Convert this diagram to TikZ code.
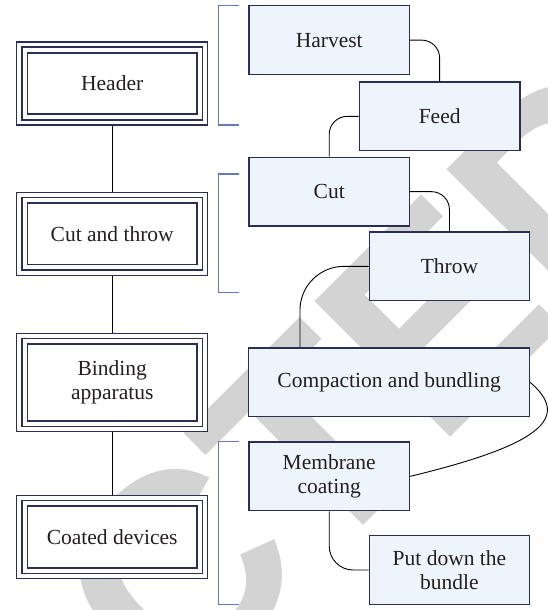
\documentclass[tikz,border=0pt]{standalone}
\usepackage{fontspec}
\setmainfont{Liberation Serif}
\newfontfamily\wmfont{Liberation Sans}
\usetikzlibrary{calc}
\definecolor{boxline}{RGB}{40,46,85}
\definecolor{boxfill}{RGB}{238,244,252}
\definecolor{brace}{RGB}{100,122,190}
\definecolor{ink}{RGB}{35,31,32}
\definecolor{wmgray}{RGB}{211,211,211}

\begin{document}
\begin{tikzpicture}[x=1pt,y=-1pt,
  label font/.style={font=\fontsize{21.5}{24.3}\selectfont},
  stage/.style={draw=boxline, line width=1.1pt, fill=white,
    minimum width=190.8pt, minimum height=83pt, inner sep=0pt,
    align=center, text=ink, label font},
  stage rim/.style={draw=boxline},
  task/.style={draw=boxline, line width=1.3pt, fill=boxfill,
    minimum width=160.6pt, minimum height=68.8pt, inner sep=0pt,
    align=center, text=ink, label font},
  link/.style={draw=black, line width=0.9pt},
  bracket/.style={draw=brace, line width=1.2pt},
  watermark/.style={text=wmgray, inner sep=0pt,
    font=\wmfont\bfseries\fontsize{279}{279}\selectfont}]

\useasboundingbox (0,0) rectangle (548,610);

% background stamp
\begin{scope}
  \clip (0,0) rectangle (548,610);
  \node[watermark, rotate=45, anchor=base west] (stamp) at (-505,1393) {RETRACTED};
\end{scope}

% left column: stages
\node[stage] (hd) at (112.2,83.5) {Header};
\node[stage] (ct) at (112.2,233.7) {Cut and throw};
\node[stage, minimum height=98pt] (ba) at (112.2,382.3) {Binding\\apparatus};
\node[stage] (cd) at (112.2,537) {Coated devices};

\foreach \n in {hd,ct,ba,cd}{
  \draw[stage rim, line width=1.4pt]
    ([xshift=5.6pt,yshift=-5.6pt]\n.north west) rectangle ([xshift=-5.6pt,yshift=5.6pt]\n.south east);
  \draw[stage rim, line width=1.8pt]
    ([xshift=11.2pt,yshift=-11.2pt]\n.north west) rectangle ([xshift=-11.2pt,yshift=11.2pt]\n.south east);
}

\draw[link] (hd.south) -- (ct.north);
\draw[link] (ct.south) -- (ba.north);
\draw[link] (ba.south) -- (cd.north);

% brackets grouping the tasks
\draw[bracket] (239,5.3) -| (218.1,125) -- (239,125);
\draw[bracket] (239,174) -| (218.1,292.7) -- (239,292.7);
\draw[bracket] (239,441.3) -| (218.1,604.7) -- (239,604.7);

% right column: tasks
\node[task] (hv) at (329.2,40.1) {Harvest};
\node[task] (fd) at (439.65,116.35) {Feed};
\node[task] (cu) at (329.2,191.65) {Cut};
\node[task] (th) at (449.45,266.35) {Throw};
\node[task, minimum width=280.7pt] (cb) at (389.15,382.35) {Compaction and bundling};
\node[task] (mc) at (329.2,476.35) {Membrane\\coating};
\node[task] (pd) at (449.45,570) {Put down the\\bundle};

\coordinate (cbin) at ($(cb.north west)+(51.8,0)$);

\draw[link, rounded corners=18pt] (hv.east) -| (fd.north);
\draw[link, rounded corners=18pt] (fd.west) -| (cu.north);
\draw[link, rounded corners=18pt] (cu.east) -| (th.north);
\draw[link, rounded corners=44pt] (th.west) -| (cbin);
\draw[link] (cb.east) .. controls (572,418) and (540,445) .. (mc.east);
\draw[link, rounded corners=24pt] (mc.south) |- (pd.west);

\end{tikzpicture}
\end{document}
